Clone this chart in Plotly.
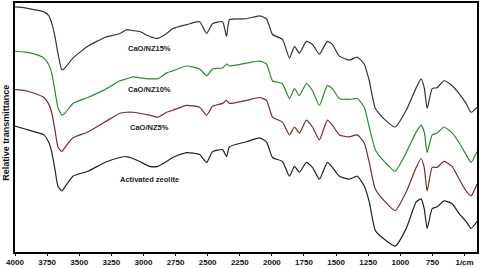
import plotly.graph_objects as go

# Wavenumbers (cm^-1) shared by all spectra
wavenumber = [4000, 3922, 3845, 3775, 3736, 3713, 3689, 3666, 3635, 3612,
              3549, 3433, 3301, 3184, 3130, 3083, 3029, 2951, 2889, 2819,
              2772, 2664, 2563, 2508, 2462, 2384, 2353, 2330, 2197, 2096,
              2042, 1995, 1918, 1863, 1824, 1786, 1731, 1684, 1630, 1568,
              1529, 1475, 1397, 1335, 1281, 1242, 1195, 1125, 1040, 954,
              876, 838, 814, 791, 752, 713, 659, 597, 542, 488,
              449, 403]

# Relative transmittance (arbitrary units, spectra stacked)
t_nz15 = [249, 248, 246, 244, 240, 232, 219, 202, 185, 187,
          197, 209, 218, 222, 226, 225, 224, 219, 217, 222,
          227, 231, 234, 222, 232, 234, 219, 236, 237, 240,
          237, 221, 216, 197, 209, 202, 214, 211, 201, 214,
          211, 199, 195, 198, 191, 174, 146, 135, 127, 144,
          167, 176, 167, 146, 166, 167, 174, 169, 161, 151,
          142, 147]
t_nz10 = [204, 203, 201, 197, 190, 181, 164, 147, 139, 141,
          151, 157, 165, 174, 176, 178, 177, 176, 176, 182,
          184, 189, 186, 179, 186, 187, 191, 189, 192, 194,
          191, 174, 171, 156, 166, 159, 171, 164, 149, 169,
          166, 156, 155, 156, 147, 127, 104, 92, 82, 101,
          122, 129, 122, 101, 119, 121, 127, 121, 111, 99,
          91, 102]
t_nz5 = [165, 164, 161, 157, 150, 141, 124, 107, 102, 106,
         116, 122, 132, 141, 142, 142, 141, 139, 137, 142,
         144, 149, 147, 139, 148, 151, 154, 151, 154, 157,
         154, 137, 132, 119, 127, 121, 134, 127, 114, 134,
         129, 119, 117, 119, 111, 91, 64, 52, 42, 61,
         86, 95, 86, 62, 86, 86, 92, 87, 74, 62,
         57, 69]
t_zeolite = [128, 125, 122, 119, 111, 101, 84, 67, 62, 66,
             77, 82, 91, 96, 97, 95, 92, 87, 87, 92,
             96, 101, 99, 91, 102, 104, 97, 107, 112, 116,
             112, 96, 92, 77, 87, 81, 91, 86, 74, 91,
             86, 77, 74, 77, 67, 51, 22, 13, 6, 24,
             51, 54, 44, 24, 44, 46, 52, 49, 39, 31,
             24, 31]

series_names = ["CaO/NZ15%", "CaO/NZ10%", "CaO/NZ5%", "Activated zeolite"]
series_data = [t_nz15, t_nz10, t_nz5, t_zeolite]
series_colors = ["#33333d", "#2e8a2e", "#7a2c2c", "#222222"]

# Label positions (wavenumber, transmittance)
label_x = [2951, 2951, 2951, 2951]
label_y = [207, 165, 126, 74]

tick_vals = [4000, 3750, 3500, 3250, 3000, 2750, 2500, 2250, 2000, 1750,
             1500, 1250, 1000, 750, 500]
tick_text = ["4000", "3750", "3500", "3250", "3000", "2750", "2500", "2250",
             "2000", "1750", "1500", "1250", "1000", "750", "1/cm"]

fig = go.Figure()
for name, ys, col in zip(series_names, series_data, series_colors):
    fig.add_trace(go.Scatter(
        x=wavenumber, y=ys, mode="lines", name=name,
        line=dict(color=col, width=1.2, shape="spline", smoothing=0.5),
        showlegend=False,
    ))

for name, lx, ly in zip(series_names, label_x, label_y):
    fig.add_annotation(x=lx, y=ly, text=name, showarrow=False,
                       font=dict(family="Liberation Sans", size=7.5, color="#222222", weight="bold"),
                       xanchor="center", yanchor="middle")

fig.add_annotation(xref="paper", yref="paper", x=-0.019, y=0.48,
                   text="Relative transmittance", textangle=-90, showarrow=False,
                   font=dict(family="Liberation Sans", size=9, color="#111111", weight="bold"),
                   xanchor="center", yanchor="middle")

fig.update_layout(
    width=480, height=268,
    margin=dict(l=15, r=2, t=1, b=14),
    paper_bgcolor="white", plot_bgcolor="white",
    xaxis=dict(range=[4000, 403], tickvals=tick_vals, ticktext=tick_text,
               showgrid=False, zeroline=False, showline=True, linecolor="black",
               linewidth=1.5, mirror=True, ticks="outside", ticklen=2,
               tickcolor="black",
               tickfont=dict(family="Liberation Sans", size=8, color="#111111", weight="bold")),
    yaxis=dict(range=[0, 253], showticklabels=False, showgrid=False, zeroline=False,
               showline=True, linecolor="black", linewidth=1.5, mirror=True, ticks=""),
)

fig.write_html("out.html")
